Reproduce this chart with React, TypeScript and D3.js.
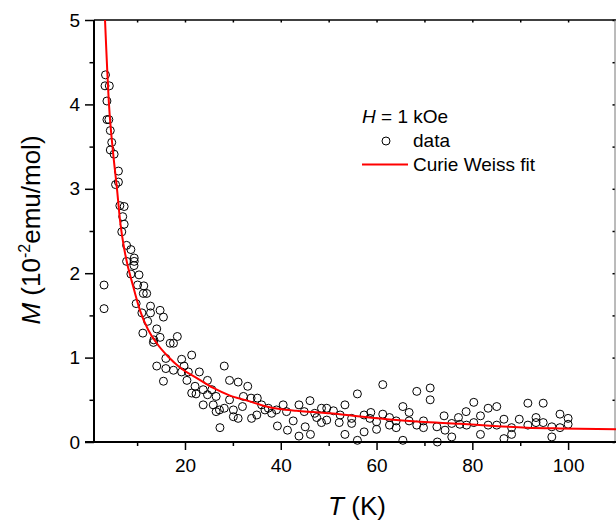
import React, { useRef, useEffect } from 'react';
import * as d3 from 'd3';

// measured points, T in K, M in 10^-2 emu/mol
const dataT = [
  3.4, 3.3, 4.2, 3.7, 3.7, 4.1, 4.4, 4.7, 4.4, 5.2, 6.1, 5.5, 6.1, 6.4, 7.3, 7.0, 7.3, 6.8, 7.8, 8.7,
  9.4, 3.1, 3.1, 7.8, 9.4, 9.35, 8.7, 10.4, 10.1, 11.4, 12.0, 11.3, 9.8, 11.0, 12.8, 12.8, 14.8, 15.5, 11.2, 12.2,
  14.1, 14.8, 13.5, 13.4, 16.9, 17.6, 18.4, 16.0, 14.1, 16.0, 15.5, 17.6, 19.3, 19.8, 19.3, 20.7, 20.4, 21.4, 22.1, 21.4,
  22.3, 23.0, 23.8, 24.7, 25.6, 24.7, 26.5, 25.9, 23.8, 27.2, 26.5, 27.3, 28.2, 28.2, 29.3, 29.3, 30.1, 31.1, 31.1, 30.1,
  32.2, 32.0, 33.1, 33.8, 33.9, 35.1, 35.0, 36.0, 36.7, 37.4, 38.1, 39.1, 39.3, 40.5, 41.2, 41.4, 42.6, 43.8, 43.8, 44.9,
  45.1, 46.1, 46.2, 47.1, 47.5, 48.5, 48.5, 49.6, 49.6, 51.0, 52.2, 52.4, 53.4, 53.4, 54.8, 54.8, 56.0, 56.0, 57.4, 57.4,
  58.8, 58.6, 60.0, 60.0, 61.3, 61.3, 62.7, 62.7, 64.1, 64.1, 65.5, 65.5, 66.8, 66.8, 68.4, 68.4, 69.8, 69.8, 71.2, 71.2,
  72.6, 72.7, 74.1, 74.3, 75.7, 75.7, 77.1, 77.4, 78.7, 78.8, 80.3, 80.3, 81.7, 81.7, 83.3, 83.3, 85.1, 85.1, 86.6, 86.6,
  88.2, 88.2, 89.8, 91.6, 91.6, 93.3, 93.3, 94.8, 94.8, 96.6, 96.6, 98.3, 98.3, 100.0, 100.0,
];
const dataM = [
  4.35, 4.22, 4.22, 4.04, 3.82, 3.82, 3.69, 3.55, 3.46, 3.41, 3.21, 3.05, 3.08, 2.8, 2.79, 2.67, 2.58, 2.49, 2.33, 2.28,
  2.18, 1.86, 1.58, 2.14, 2.14, 2.09, 1.99, 1.98, 1.86, 1.85, 1.76, 1.76, 1.64, 1.53, 1.61, 1.53, 1.56, 1.48, 1.29, 1.43,
  1.34, 1.24, 1.21, 1.18, 1.17, 1.17, 1.25, 0.99, 0.9, 0.87, 0.72, 0.85, 0.98, 0.9, 0.83, 0.83, 0.73, 1.03, 0.66, 0.58,
  0.57, 0.83, 0.62, 0.73, 0.62, 0.56, 0.54, 0.44, 0.44, 0.38, 0.36, 0.17, 0.9, 0.4, 0.73, 0.5, 0.38, 0.71, 0.28, 0.3,
  0.54, 0.42, 0.66, 0.52, 0.28, 0.52, 0.32, 0.44, 0.38, 0.4, 0.34, 0.38, 0.19, 0.44, 0.36, 0.14, 0.25, 0.44, 0.07, 0.36,
  0.18, 0.49, 0.09, 0.34, 0.29, 0.4, 0.23, 0.4, 0.26, 0.37, 0.23, 0.32, 0.44, 0.09, 0.28, 0.22, 0.57, 0.02, 0.32, 0.12,
  0.35, 0.28, 0.24, 0.15, 0.68, 0.33, 0.29, 0.2, 0.25, 0.17, 0.42, 0.02, 0.35, 0.25, 0.6, 0.2, 0.25, 0.17, 0.64, 0.5,
  0.18, 0.0, 0.31, 0.14, 0.22, 0.06, 0.29, 0.21, 0.36, 0.2, 0.47, 0.23, 0.31, 0.09, 0.4, 0.2, 0.42, 0.2, 0.27, 0.04,
  0.17, 0.09, 0.27, 0.46, 0.2, 0.29, 0.23, 0.46, 0.23, 0.18, 0.06, 0.33, 0.17, 0.28, 0.21,
];

// fit curve
const fitT = [3.3, 4.13, 5.0, 5.8, 6.43, 7.47, 9.2, 10.6, 12.3, 14.1, 16.5, 19.0, 22.4, 25.9, 29.4, 33.0, 36.4, 39.8, 43.3, 46.8, 50.3, 55.1, 62.1, 69.1, 77.4, 84.4, 91.4, 98.3, 110];
const fitM = [5.0, 4.0, 3.42, 3.0, 2.63, 2.24, 1.84, 1.56, 1.33, 1.17, 1.01, 0.88, 0.76, 0.64, 0.55, 0.49, 0.43, 0.39, 0.37, 0.355, 0.34, 0.31, 0.27, 0.24, 0.215, 0.19, 0.17, 0.16, 0.15];

const xTicks = [20, 40, 60, 80, 100];
const xMinorTicks = [10, 30, 50, 70, 90];
const yTicks = [0, 1, 2, 3, 4, 5];
const yMinorTicks = [0.5, 1.5, 2.5, 3.5, 4.5];
const legendLabels = ['data', 'Curie Weiss fit'];

const FONT = '"Liberation Sans", Arial, sans-serif';

function MagnetizationChart() {
  const svgRef = useRef(null);

  useEffect(() => {
    const svg = d3.select(svgRef.current);
    const width = 616;
    const height = 521;
    const margin = { top: 20, right: 0, bottom: 79, left: 94 };

    svg.selectAll('*').remove();
    svg.attr('width', width).attr('height', height);

    const x = d3.scaleLinear().domain([1, 110]).range([margin.left, width - margin.right]);
    const y = d3.scaleLinear().domain([0, 5]).range([height - margin.bottom, margin.top]);
    const x0 = x.range()[0], x1 = x.range()[1];
    const y0 = y.range()[0], y1 = y.range()[1];

    const styleAxis = (g) => {
      g.select('.domain').remove();
      g.selectAll('line').attr('stroke', '#000').attr('stroke-width', 1.5);
      g.selectAll('text').attr('fill', '#000').attr('font-family', FONT).attr('font-size', 19);
    };

    // bottom
    svg.append('g').attr('transform', `translate(0,${y0})`)
      .call(d3.axisBottom(x).tickValues(xTicks).tickSize(8).tickPadding(9)).call(styleAxis);
    svg.append('g').attr('transform', `translate(0,${y0})`)
      .call(d3.axisBottom(x).tickValues(xMinorTicks).tickSize(4).tickFormat(() => '')).call(styleAxis);
    // left
    svg.append('g').attr('transform', `translate(${x0},0)`)
      .call(d3.axisLeft(y).tickValues(yTicks).tickSize(9).tickPadding(5).tickFormat(d3.format('d'))).call(styleAxis);
    svg.append('g').attr('transform', `translate(${x0},0)`)
      .call(d3.axisLeft(y).tickValues(yMinorTicks).tickSize(4.5).tickFormat(() => '')).call(styleAxis);
    // top and right, inward ticks
    svg.append('g').attr('transform', `translate(0,${y1})`)
      .call(d3.axisBottom(x).tickValues(xTicks.concat(xMinorTicks)).tickSize(2.5).tickFormat(() => '')).call(styleAxis);
    svg.append('g').attr('transform', `translate(${x1 - 1},0)`)
      .call(d3.axisLeft(y).tickValues(yTicks.concat(yMinorTicks)).tickSize(2.5).tickFormat(() => '')).call(styleAxis);

    // frame
    svg.append('line').attr('x1', x0).attr('x2', x1).attr('y1', y1).attr('y2', y1).attr('stroke', '#000').attr('stroke-width', 1.5);
    svg.append('line').attr('x1', x1 - 1).attr('x2', x1 - 1).attr('y1', y1).attr('y2', y0).attr('stroke', '#777').attr('stroke-width', 1);
    svg.append('line').attr('x1', x0 - 9).attr('x2', x1).attr('y1', y0).attr('y2', y0).attr('stroke', '#000').attr('stroke-width', 2);
    svg.append('line').attr('x1', x0).attr('x2', x0).attr('y1', y1).attr('y2', y0 + 1).attr('stroke', '#000').attr('stroke-width', 2);

    const plot = svg.append('g');
    const clipId = 'plot-clip';
    svg.append('clipPath').attr('id', clipId)
      .append('rect').attr('x', x0).attr('y', y1).attr('width', x1 - x0).attr('height', y0 - y1);

    plot.selectAll('circle.pt').data(dataT).enter().append('circle')
      .attr('class', 'pt')
      .attr('cx', (d) => x(d))
      .attr('cy', (d, i) => y(dataM[i]))
      .attr('r', 4)
      .attr('fill', 'none')
      .attr('stroke', '#000')
      .attr('stroke-width', 1);

    const line = d3.line()
      .x((d) => x(d))
      .y((d, i) => y(fitM[i]))
      .curve(d3.curveMonotoneX);

    plot.append('path').datum(fitT)
      .attr('clip-path', `url(#${clipId})`)
      .attr('fill', 'none').attr('stroke', '#ff0000').attr('stroke-width', 2).attr('d', line);

    // legend
    const lg = svg.append('g').attr('font-family', FONT).attr('font-size', 19).attr('fill', '#000');
    const h = lg.append('text').attr('x', 362).attr('y', 123);
    h.append('tspan').attr('font-style', 'italic').text('H');
    h.append('tspan').text(' = 1 kOe');
    lg.append('circle').attr('cx', 386).attr('cy', 141).attr('r', 4).attr('fill', 'none').attr('stroke', '#000');
    lg.append('text').attr('x', 413).attr('y', 147).text(legendLabels[0]);
    lg.append('line').attr('x1', 362).attr('x2', 408).attr('y1', 164.5).attr('y2', 164.5).attr('stroke', '#ff0000').attr('stroke-width', 2);
    lg.append('text').attr('x', 413).attr('y', 171).text(legendLabels[1]);

    // axis titles
    const xt = svg.append('text').attr('x', 357).attr('y', 515).attr('text-anchor', 'middle')
      .attr('font-family', FONT).attr('font-size', 26);
    xt.append('tspan').attr('font-style', 'italic').text('T');
    xt.append('tspan').text(' (K)');

    const yt = svg.append('text').attr('transform', 'translate(40,230) rotate(-90)').attr('text-anchor', 'middle')
      .attr('font-family', FONT).attr('font-size', 26);
    yt.append('tspan').attr('font-style', 'italic').text('M');
    yt.append('tspan').text(' (10');
    yt.append('tspan').attr('font-size', 16).attr('dy', -10).text('-2');
    yt.append('tspan').attr('dy', 10).text('emu/mol)');
  }, []);

  return <svg ref={svgRef} style={{ position: 'absolute', left: 0, top: 0 }}></svg>;
}

export default function App() {
  return <MagnetizationChart />;
}
